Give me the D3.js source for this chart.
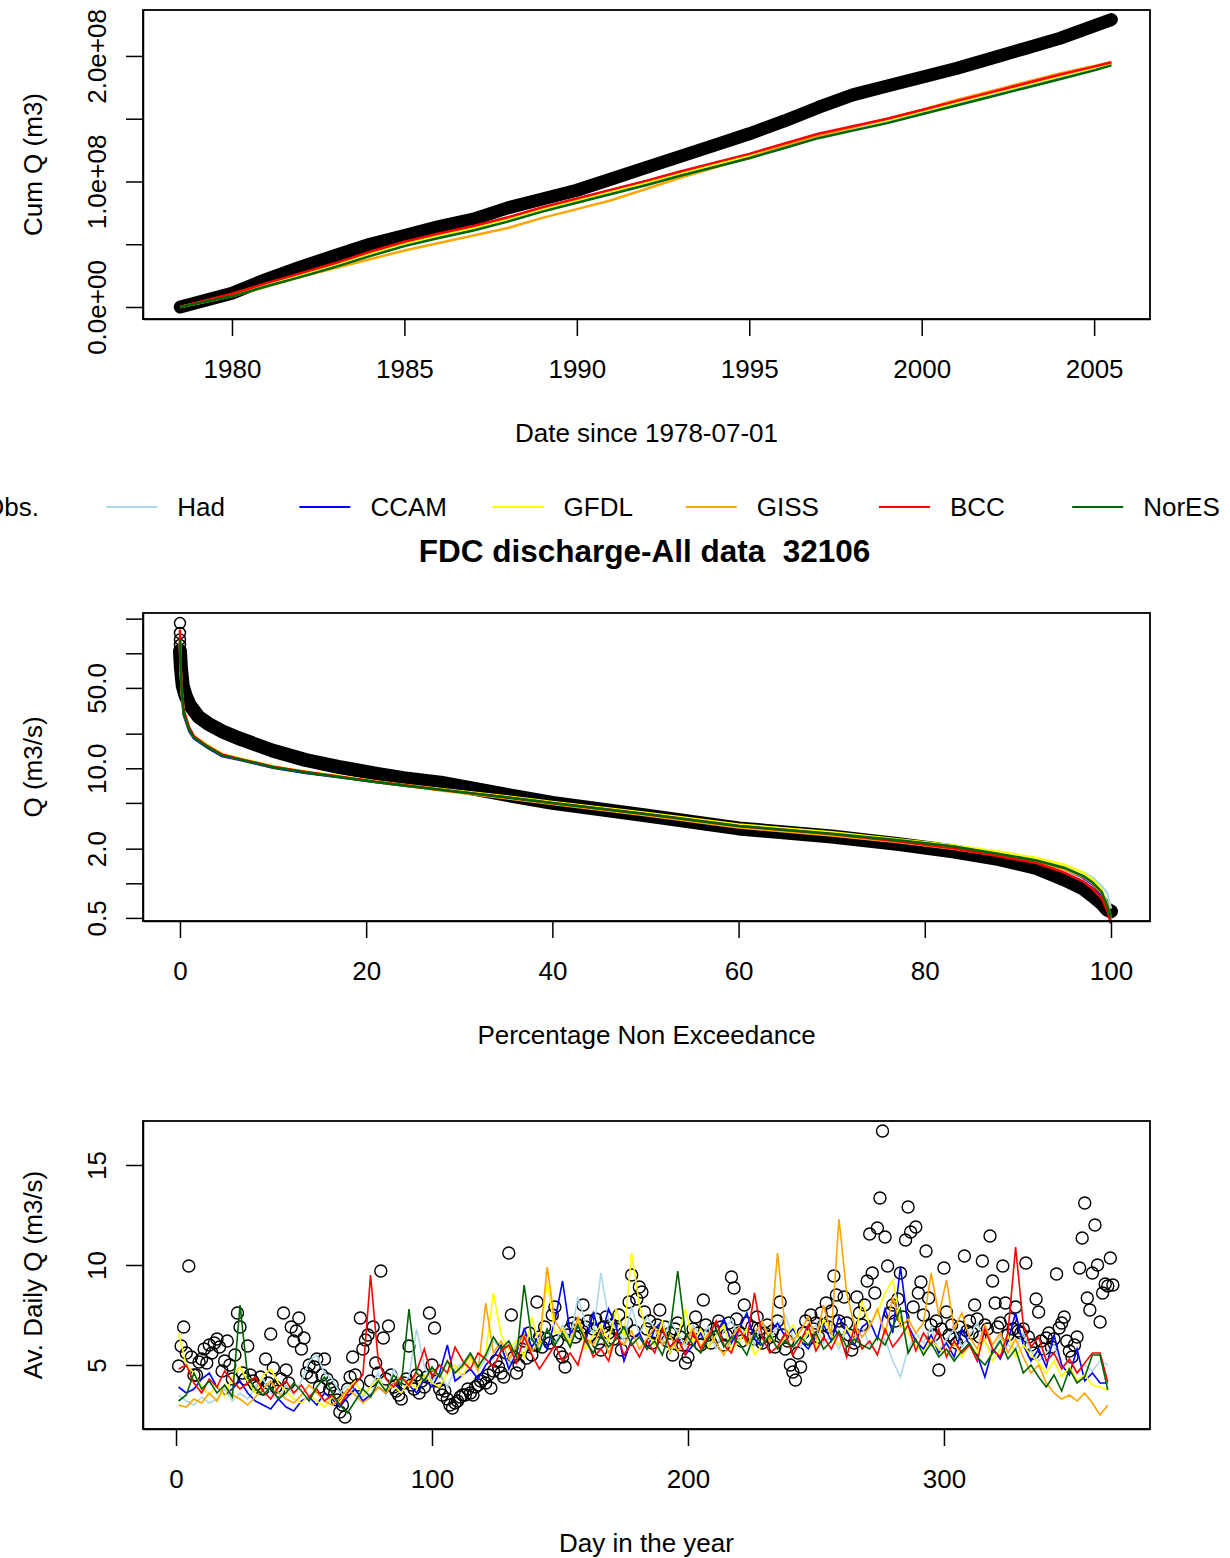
<!DOCTYPE html>
<html>
<head>
<meta charset="utf-8">
<script src="https://cdn.jsdelivr.net/npm/d3@7"></script>
<style>
  body { margin: 0; background: #fff; }
  svg { font-family: "Liberation Sans", Arial, sans-serif; }
  .axis text { font-size: 26px; fill: #000; }
  .axis path, .axis line { stroke: #000; stroke-width: 1.5; }
  .label { font-size: 26px; text-anchor: middle; fill: #000; }
  .box { fill: none; stroke: #000; stroke-width: 1.8; }
</style>
</head>
<body>
<svg id="chart" width="1230" height="1558"></svg>
<script>
// ---------- series names / colours ----------
var models = ["Had", "CCAM", "GFDL", "GISS", "BCC", "NorESM"];
var modelColors = ["#add8e6", "#0000ff", "#ffff00", "#ffa500", "#ff0000", "#006400"];

// ---------- panel 1: cumulative discharge (units of 1e8 m3) ----------
var cumYears = [1978.5, 1980, 1981, 1982, 1983, 1984, 1985, 1986, 1987, 1988, 1989, 1990, 1991, 1992,
  1993, 1994, 1995, 1996, 1997, 1998, 1999, 2000, 2001, 2002, 2003, 2004, 2005, 2005.5];
var cumObs = [0, 0.11, 0.22, 0.32, 0.41, 0.50, 0.57, 0.64, 0.70, 0.79, 0.86, 0.93, 1.02, 1.11,
  1.20, 1.29, 1.38, 1.48, 1.59, 1.69, 1.76, 1.83, 1.90, 1.98, 2.06, 2.14, 2.24, 2.29];
var cumHad = [0, 0.09, 0.17, 0.25, 0.33, 0.42, 0.50, 0.565, 0.625, 0.695, 0.775, 0.845, 0.915, 0.985,
  1.06, 1.13, 1.20, 1.28, 1.36, 1.42, 1.48, 1.55, 1.62, 1.69, 1.76, 1.83, 1.90, 1.935];
var cumCCAM = [0, 0.10, 0.185, 0.265, 0.345, 0.435, 0.515, 0.58, 0.64, 0.71, 0.79, 0.86, 0.93, 1.00,
  1.075, 1.145, 1.215, 1.295, 1.375, 1.435, 1.495, 1.565, 1.635, 1.705, 1.775, 1.845, 1.91, 1.94];
var cumGFDL = [0, 0.095, 0.175, 0.255, 0.335, 0.425, 0.505, 0.57, 0.63, 0.70, 0.78, 0.85, 0.92, 0.99,
  1.065, 1.135, 1.205, 1.285, 1.365, 1.43, 1.49, 1.56, 1.63, 1.70, 1.77, 1.84, 1.905, 1.94];
var cumGISS = [0, 0.085, 0.16, 0.24, 0.31, 0.38, 0.45, 0.51, 0.57, 0.63, 0.71, 0.78, 0.85, 0.94,
  1.03, 1.11, 1.19, 1.28, 1.36, 1.43, 1.50, 1.57, 1.65, 1.72, 1.79, 1.86, 1.92, 1.95];
var cumBCC = [0, 0.105, 0.19, 0.27, 0.35, 0.44, 0.52, 0.585, 0.645, 0.715, 0.795, 0.865, 0.935, 1.005,
  1.08, 1.15, 1.22, 1.30, 1.38, 1.44, 1.50, 1.57, 1.64, 1.71, 1.78, 1.85, 1.915, 1.95];
var cumNorESM = [0, 0.085, 0.165, 0.24, 0.32, 0.405, 0.485, 0.55, 0.61, 0.68, 0.76, 0.83, 0.90, 0.97,
  1.045, 1.115, 1.185, 1.265, 1.345, 1.405, 1.465, 1.535, 1.605, 1.675, 1.745, 1.815, 1.885, 1.925];
var cumTicks = [0, 0.5e8, 1e8, 1.5e8, 2e8];
var cumTickLabels = ["0.0e+00", "", "1.0e+08", "", "2.0e+08"];
var yearTicks = [1980, 1985, 1990, 1995, 2000, 2005];

// ---------- panel 2: flow duration curve ----------
var fdcObsP = [0, 0.1, 0.3, 0.6, 1, 2, 3, 4.5, 6.5, 10, 13.5, 17, 21, 24, 28, 35, 40, 50, 60, 70,
  77, 83, 88, 92, 95, 97, 98, 99, 99.6, 100];
var fdcObsQ = [105, 75, 52, 43, 36, 28, 24.5, 21, 18, 14.2, 11.8, 10.3, 9.0, 8.2, 7.5, 5.9, 5.0, 3.9, 3.0, 2.55,
  2.2, 1.9, 1.62, 1.36, 1.08, 0.9, 0.78, 0.67, 0.59, 0.57];
var fdcObsPeakQ = [183, 150, 132, 118];
var fdcP = [0, 0.05, 0.2, 0.4, 1, 1.5, 3, 4.5, 6.5, 10, 13.5, 17, 21, 24, 28, 35, 40, 50, 60, 70,
  77, 83, 88, 92, 95, 97, 98, 99, 99.6, 100];
var fdcHad = [120, 78, 44, 30, 21.5, 18.5, 15.2, 13.0, 11.9, 10.2, 9.2, 8.4, 7.6, 7.1, 6.5, 5.6, 5.0, 4.0, 3.15, 2.7,
  2.35, 2.08, 1.82, 1.62, 1.42, 1.25, 1.12, 0.95, 0.82, 0.6];
var fdcCCAM = [125, 80, 45, 29, 21, 18.2, 15.0, 12.8, 11.8, 10.1, 9.1, 8.4, 7.6, 7.1, 6.5, 5.6, 5.05, 4.05, 3.2, 2.72,
  2.36, 2.06, 1.78, 1.56, 1.33, 1.12, 0.98, 0.8, 0.6, 0.45];
var fdcGFDL = [130, 82, 46, 31, 22.5, 19.2, 15.8, 13.4, 12.2, 10.4, 9.4, 8.6, 7.7, 7.2, 6.6, 5.7, 5.1, 4.1, 3.25, 2.78,
  2.42, 2.14, 1.88, 1.66, 1.45, 1.24, 1.08, 0.88, 0.66, 0.5];
var fdcGISS = [128, 80, 45, 30, 22, 18.8, 15.4, 13.1, 12.0, 10.3, 9.3, 8.5, 7.6, 7.1, 6.4, 5.5, 4.9, 3.9, 3.05, 2.6,
  2.28, 2.0, 1.74, 1.54, 1.32, 1.14, 1.0, 0.82, 0.62, 0.47];
var fdcBCC = [160, 95, 50, 32, 22.5, 19.0, 15.5, 13.2, 12.0, 10.3, 9.3, 8.5, 7.65, 7.15, 6.5, 5.6, 5.0, 4.0, 3.15, 2.68,
  2.32, 2.02, 1.72, 1.5, 1.24, 1.04, 0.9, 0.74, 0.58, 0.45];
var fdcNorESM = [130, 82, 45, 30, 21.5, 18.5, 15.2, 13.0, 11.9, 10.2, 9.2, 8.4, 7.6, 7.1, 6.5, 5.6, 5.0, 4.0, 3.15, 2.7,
  2.38, 2.1, 1.8, 1.58, 1.36, 1.16, 1.02, 0.84, 0.64, 0.5];
var fdcTicks = [0.5, 1, 2, 5, 10, 20, 50, 100, 200];
var fdcTickLabels = ["0.5", "", "2.0", "", "10.0", "", "50.0", "", ""];
var pctTicks = [0, 20, 40, 60, 80, 100];

// ---------- panel 3: average daily discharge ----------
var dayObs = [
  4.95, 5.95, 6.9, 5.6, 9.95, 5.4, 4.5, 4.5, 5.15, 5.3,
  5.8, 5.1, 6.0, 5.6, 6.1, 6.3, 5.9, 4.7, 5.2, 6.2,
  5.0, 4.3, 5.5, 7.6, 6.9, 4.6, 4.3, 5.95, 4.5, 4.2,
  4.0, 3.9, 4.4, 3.8, 5.3, 4.1, 6.55, 4.85, 3.9, 3.7,
  4.3, 7.6, 4.75, 4.1, 6.9, 6.2, 6.7, 7.35, 5.8, 6.35,
  4.6, 5.0, 4.4, 4.9, 5.3, 3.9, 4.5, 5.3, 4.3, 3.8,
  4.0, 3.6, 3.25, 2.65, 3.0, 2.4, 3.8, 4.4, 5.4, 4.5,
  4.0, 7.35, 5.8, 6.25, 6.5, 4.2, 6.9, 5.1, 4.6, 9.7,
  6.35, 4.3, 6.95, 4.5, 3.9, 3.7, 3.5, 3.3, 4.1, 4.3,
  5.95, 4.0, 3.8, 4.5, 3.6, 4.2, 3.9, 4.4, 7.6, 5.0,
  6.85, 4.2, 3.8, 3.5, 3.7, 3.3, 3.0, 2.85, 3.1, 3.2,
  3.4, 3.5, 3.5, 3.8, 3.6, 3.5, 3.9, 4.0, 4.2, 4.3,
  4.1, 4.5, 3.85, 4.7, 5.2, 4.9, 4.6, 4.4, 5.6, 10.6,
  7.5, 5.4, 4.6, 5.0, 5.8, 6.2, 5.35, 6.6, 5.5, 6.0,
  8.15, 6.4, 5.9, 6.9, 6.3, 6.1, 7.5, 7.9, 6.2, 5.6,
  5.4, 4.9, 6.5, 6.8, 7.1, 6.4, 7.0, 6.6, 8.0, 6.9,
  7.2, 6.5, 6.8, 7.3, 6.1, 5.75, 6.9, 7.4, 6.6, 7.0,
  6.3, 6.8, 7.5, 5.75, 6.6, 7.1, 8.15, 9.5, 6.7, 8.3,
  8.9, 8.65, 7.65, 6.8, 7.2, 6.1, 6.6, 7.0, 7.75, 6.4,
  6.9, 6.2, 6.6, 5.5, 6.8, 7.1, 6.4, 6.0, 5.1, 5.4,
  6.3, 6.8, 7.4, 6.6, 6.0, 8.25, 7.0, 6.5, 6.1, 6.8,
  6.4, 7.2, 6.9, 6.0, 6.5, 7.1, 9.4, 8.85, 7.3, 6.6,
  6.2, 8.0, 7.1, 6.5, 6.9, 6.3, 7.4, 6.8, 6.1, 6.6,
  7.0, 6.4, 6.7, 5.9, 7.2, 8.15, 6.5, 5.8, 6.2, 5.0,
  4.65, 4.25, 5.6, 4.9, 6.6, 7.2, 6.3, 7.5, 6.8, 7.1,
  6.4, 7.6, 7.0, 8.1, 6.9, 7.7, 9.45, 8.5, 7.2, 6.8,
  8.4, 7.1, 6.5, 5.75, 6.1, 8.4, 7.6, 7.0, 8.0, 9.2,
  11.55, 9.6, 8.6, 11.85, 13.35, 16.7, 11.4, 9.95, 7.6, 8.0,
  7.2, 8.3, 9.6, 7.4, 11.25, 12.9, 11.65, 7.9, 11.9, 8.6,
  9.15, 7.5, 10.7, 8.35, 7.0, 6.5, 7.2, 4.75, 6.8, 9.85,
  7.65, 6.5, 7.0, 6.3, 6.1, 6.9, 6.4, 10.45, 6.7, 7.2,
  6.6, 8.0, 7.3, 6.4, 10.2, 7.0, 6.8, 11.45, 9.2, 8.1,
  6.9, 7.1, 9.95, 8.1, 6.5, 7.3, 6.8, 7.9, 6.7, 6.6,
  6.8, 10.1, 6.4, 6.0, 5.6, 8.3, 7.65, 6.2, 5.8, 6.35,
  6.6, 5.9, 6.3, 9.55, 6.85, 7.1, 7.4, 6.2, 5.7, 5.4,
  6.0, 6.4, 9.85, 11.35, 13.1, 8.35, 7.75, 9.6, 12.0, 10.0,
  7.15, 8.6, 9.05, 8.95, 10.35, 9.0];
// model values every third day: 1, 4, 7, ... 364
var dayHad = [
  3.5, 3.2, 3.0, 3.4, 3.1, 3.3, 3.8, 3.2, 3.6, 3.3,
  3.9, 4.3, 3.6, 3.3, 4.0, 3.5, 4.2, 5.2, 5.5, 4.6,
  4.3, 3.6, 4.0, 3.7, 3.4, 3.9, 4.6, 3.5, 4.8, 4.1,
  4.4, 6.8, 4.9, 4.2, 4.6, 3.9, 4.8, 5.1, 5.6, 4.7,
  5.3, 6.2, 5.8, 5.0, 6.1, 5.5, 6.4, 5.9, 6.8, 6.0,
  7.0, 6.2, 8.4, 7.1, 6.6, 9.6, 7.3, 6.8, 6.2, 7.9,
  6.5, 7.4, 6.8, 6.1, 7.2, 6.6, 5.9, 7.0, 6.4, 6.9,
  5.8, 6.7, 7.3, 6.2, 6.8, 6.0, 7.2, 6.3, 6.9, 7.5,
  6.4, 5.9, 6.6, 7.0, 6.1, 6.5, 5.8, 6.8, 6.2, 6.9,
  6.0, 5.6, 6.3, 5.2, 4.4, 5.8, 6.6, 6.1, 6.9, 5.7,
  6.3, 6.8, 5.9, 6.5, 7.1, 6.2, 5.6, 6.4, 6.0, 5.8,
  6.6, 5.7, 5.2, 5.6, 6.0, 4.9, 5.3, 4.6, 5.0, 4.7,
  5.2, 5.0];
var dayCCAM = [
  3.9, 3.6, 3.8, 4.3, 4.6, 3.9, 3.5, 3.8, 4.2, 3.6,
  3.2, 3.0, 2.8, 3.3, 2.9, 2.7, 3.2, 3.4, 3.0, 3.6,
  3.3, 2.9, 3.4, 3.8, 3.2, 3.5, 3.9, 3.6, 4.1, 3.7,
  4.0, 3.6, 4.3, 3.9, 4.6, 6.0, 4.2, 4.5, 4.8, 4.3,
  5.0, 5.4, 6.0, 4.8, 5.6, 6.8, 5.9, 6.5, 5.8, 7.2,
  9.2, 6.6, 7.0, 6.2, 7.6, 6.4, 7.8, 6.9, 5.2, 6.3,
  6.6, 5.8, 6.8, 7.2, 5.6, 6.4, 5.5, 6.0, 6.6, 5.9,
  6.5, 7.3, 6.1, 6.8, 7.6, 6.3, 5.9, 6.6, 7.1, 6.4,
  6.8, 6.2, 5.8, 6.5, 7.0, 6.2, 7.4, 6.7, 6.0, 6.9,
  7.2, 6.3, 7.8, 6.6, 9.9, 7.0, 6.2, 5.8, 6.5, 5.6,
  6.1, 5.4, 6.8, 6.0, 5.5, 4.4, 5.8, 5.3, 6.2, 7.6,
  6.0, 5.2, 5.8, 4.9, 6.5, 5.0, 4.5, 5.8, 4.2, 4.6,
  4.1, 4.1];
var dayGFDL = [
  6.6, 5.0, 4.6, 3.9, 3.5, 4.0, 3.4, 4.4, 4.9, 4.2,
  3.6, 4.5, 4.8, 4.1, 3.7, 3.3, 3.1, 3.5, 3.2, 2.9,
  3.4, 3.1, 3.8, 4.2, 3.5, 3.9, 4.3, 3.7, 4.0, 3.6,
  4.2, 3.8, 4.5, 4.1, 3.9, 4.6, 5.0, 4.4, 5.3, 4.8,
  5.6, 8.6, 6.5, 5.8, 6.2, 5.4, 7.4, 6.0, 9.25, 6.6,
  6.8, 6.1, 7.3, 5.8, 6.5, 7.0, 6.2, 7.8, 6.4, 10.6,
  8.0, 6.6, 6.0, 7.2, 5.6, 6.4, 7.8, 6.1, 6.8, 5.9,
  6.5, 7.0, 5.7, 6.2, 6.8, 5.5, 6.0, 6.6, 5.8, 6.4,
  7.0, 6.1, 6.7, 5.9, 7.3, 6.5, 6.0, 6.9, 6.2, 8.2,
  7.0, 7.6, 8.6, 9.25, 7.2, 6.6, 6.0, 5.6, 6.3, 5.8,
  5.5, 6.1, 5.4, 6.0, 5.6, 6.3, 5.2, 5.8, 6.5, 5.4,
  6.0, 5.5, 5.1, 4.6, 5.2, 4.4, 4.9, 4.2, 4.5, 4.0,
  3.9, 3.75];
var dayGISS = [
  3.0, 2.9, 3.3, 3.1, 3.6, 3.2, 4.0, 3.5, 3.3, 3.0,
  3.4, 3.8, 4.2, 3.6, 3.3, 3.1, 3.5, 4.0, 3.6, 3.2,
  3.0, 3.3, 3.8, 3.5, 3.1, 3.4, 3.9, 3.6, 4.1, 4.4,
  3.9, 4.6, 4.2, 4.8, 4.4, 5.2, 4.6, 4.9, 5.5, 4.7,
  8.1, 5.6, 6.2, 5.3, 5.9, 6.5, 5.7, 6.1, 9.9, 7.2,
  6.6, 5.9, 7.4, 6.3, 6.0, 6.8, 5.6, 6.4, 6.0, 6.7,
  5.8, 6.3, 6.9, 6.0, 6.5, 5.7, 6.2, 6.8, 5.9, 6.6,
  6.1, 5.5, 6.4, 6.9, 6.0, 6.6, 7.2, 6.1, 10.6, 6.8,
  6.2, 6.7, 7.4, 6.3, 8.0, 6.5, 12.3, 8.6, 7.0, 6.4,
  6.9, 7.8, 6.5, 8.4, 6.9, 7.3, 6.6, 7.1, 9.6, 7.5,
  9.25, 6.8, 7.6, 6.4, 5.8, 7.0, 6.0, 6.6, 5.6, 6.3,
  5.4, 4.6, 5.0, 4.1, 3.6, 3.3, 3.5, 3.2, 3.6, 3.1,
  2.5, 3.0];
var dayBCC = [
  4.8, 5.0, 4.1, 3.6, 4.3, 3.9, 4.7, 4.2, 3.8, 4.1,
  4.4, 3.7, 3.3, 3.9, 4.2, 3.6, 4.0, 3.4, 3.8, 3.2,
  3.5, 3.0, 3.6, 4.1, 4.5, 9.5, 5.2, 4.3, 3.9, 4.4,
  4.0, 4.7, 5.8, 4.4, 5.0, 4.6, 5.9, 5.2, 4.8, 5.6,
  5.3, 4.9, 5.7, 6.0, 5.1, 6.4, 5.5, 4.8, 5.4, 6.0,
  5.2, 5.6, 5.0, 6.4, 5.4, 5.8, 5.2, 6.6, 5.5, 6.1,
  5.4, 6.2, 5.6, 6.8, 5.9, 6.3, 5.5, 6.6, 5.8, 6.4,
  7.2, 6.0, 5.6, 6.8, 6.2, 8.6, 6.4, 5.6, 5.9, 6.6,
  5.5, 6.2, 7.0, 5.7, 6.4, 5.8, 6.6, 5.4, 6.9, 5.8,
  6.2, 5.5, 6.8, 5.9, 6.4, 7.0, 5.7, 6.6, 6.0, 6.8,
  5.4, 6.2, 5.6, 6.0, 5.2, 6.8, 5.8, 5.4, 6.6, 10.9,
  7.0, 5.9, 6.4, 5.2, 5.6, 4.8, 5.3, 4.6, 5.1, 5.6,
  5.6, 4.15];
var dayNorESM = [
  3.2, 3.5, 4.6, 3.8, 4.2, 3.6, 4.0, 3.4, 8.0, 4.4,
  3.8, 3.5, 3.9, 3.3, 3.6, 4.1, 3.7, 3.2, 3.9, 4.4,
  3.6, 3.0, 2.6, 3.2, 3.8, 3.4, 4.2, 3.7, 4.5, 4.0,
  7.8, 4.6, 4.2, 4.9, 4.4, 5.2, 4.6, 5.0, 5.6, 4.9,
  5.5, 6.4, 5.8, 6.2, 5.4, 9.0, 6.3, 5.7, 6.8, 6.0,
  6.6, 5.9, 7.0, 6.2, 5.6, 6.5, 5.9, 6.3, 6.9, 6.0,
  6.4, 5.8, 6.2, 5.5, 6.7, 9.7, 6.6, 6.0, 5.6, 6.3,
  6.8, 5.9, 6.4, 6.1, 5.5, 6.6, 6.0, 6.5, 5.8, 6.2,
  5.9, 6.4, 6.0, 6.6, 5.8, 6.2, 6.7, 5.9, 6.3, 6.0,
  5.8, 6.4, 6.0, 6.9, 7.8, 5.6, 6.3, 5.5, 6.1, 5.4,
  5.8, 5.2, 5.7, 6.1, 5.4, 5.0, 5.6, 6.2, 5.3, 5.8,
  4.6, 5.0, 4.4, 3.9, 4.5, 3.7, 4.8, 4.1, 4.4, 5.5,
  5.5, 3.75];
var dayTicks = [0, 100, 200, 300];
var dailyTicks = [5, 10, 15];

// ---------- layout ----------
var svg = d3.select("#chart");
var L = 143, R = 1150;

function drawBox(top, bottom) {
    svg.append("rect").attr("class", "box")
        .attr("x", L).attr("y", top).attr("width", R - L).attr("height", bottom - top);
}

function xAxis(scale, ticks, bottom) {
    svg.append("g").attr("class", "axis")
        .attr("transform", "translate(0," + bottom + ")")
        .call(d3.axisBottom(scale).tickValues(ticks).tickFormat(d3.format("d"))
            .tickSize(17).tickSizeOuter(0).tickPadding(24));
}

function yAxis(scale, ticks, labels) {
    var g = svg.append("g").attr("class", "axis")
        .attr("transform", "translate(" + L + ",0)")
        .call(d3.axisLeft(scale).tickValues(ticks).tickSize(17).tickSizeOuter(0)
            .tickFormat(function(d, i) { return labels ? labels[i] : d; }));
    g.selectAll("text")
        .attr("transform", "rotate(-90)")
        .attr("x", 0).attr("y", -37).attr("dy", null)
        .style("text-anchor", "middle");
}

function labels(xTitle, xTitleY, yTitle, midY) {
    svg.append("text").attr("class", "label")
        .attr("x", (L + R) / 2).attr("y", xTitleY).text(xTitle);
    svg.append("text").attr("class", "label")
        .attr("transform", "translate(42," + midY + ") rotate(-90)")
        .text(yTitle);
}

// ---------- panel 1 ----------
(function() {
    var top = 10, bottom = 319;
    var x = d3.scaleLinear().domain([1977.42, 2006.62]).range([L, R]);
    var y = d3.scaleLinear().domain([-0.0956e8, 2.366e8]).range([bottom, top]);
    var line = d3.line()
        .x(function(d) { return x(d[0]); })
        .y(function(d) { return y(d[1] * 1e8); });

    svg.append("path")
        .attr("d", line(d3.zip(cumYears, cumObs)))
        .attr("fill", "none").attr("stroke", "#000")
        .attr("stroke-width", 13).attr("stroke-linecap", "round").attr("stroke-linejoin", "round");

    var series = [cumHad, cumCCAM, cumGFDL, cumGISS, cumBCC, cumNorESM];
    series.forEach(function(s, i) {
        svg.append("path")
            .attr("d", line(d3.zip(cumYears, s)))
            .attr("fill", "none").attr("stroke", modelColors[i]).attr("stroke-width", 2.5);
    });

    drawBox(top, bottom);
    xAxis(x, yearTicks, bottom);
    yAxis(y, cumTicks, cumTickLabels);
    labels("Date since 1978-07-01", 442, "Cum Q (m3)", (top + bottom) / 2);
})();

// ---------- legend + title ----------
(function() {
    svg.append("clipPath").attr("id", "legclip")
        .append("rect").attr("x", 0).attr("y", 480).attr("width", 1219).attr("height", 50);
    var names = ["Obs."].concat(models);
    var colors = ["#000"].concat(modelColors);
    var leg = svg.append("g").attr("clip-path", "url(#legclip)");
    var item = leg.selectAll("g").data(names).enter().append("g")
        .attr("transform", function(d, i) { return "translate(" + (-87 + i * 193.2) + ",507)"; });
    item.append("line")
        .attr("x1", 0).attr("x2", 51).attr("y1", 0).attr("y2", 0)
        .attr("stroke", function(d, i) { return i === 0 ? "none" : colors[i]; })
        .attr("stroke-width", 2);
    item.append("text")
        .attr("x", 71).attr("y", 9)
        .style("font-size", "26px")
        .text(function(d) { return d; });

    svg.append("text")
        .attr("x", (L + R) / 2 - 2).attr("y", 562)
        .style("text-anchor", "middle").style("font-size", "31.5px").style("font-weight", "bold")
        .style("white-space", "pre")
        .text("FDC discharge-All data  32106");
})();

// ---------- panel 2 ----------
(function() {
    var top = 613, bottom = 921;
    var x = d3.scaleLinear().domain([-3.97, 104.19]).range([L, R]);
    var y = d3.scaleLog().domain([0.47, 224]).range([bottom, top]);
    var line = d3.line()
        .x(function(d) { return x(d[0]); })
        .y(function(d) { return y(d[1]); });

    svg.append("path")
        .attr("d", line(d3.zip(fdcObsP, fdcObsQ)))
        .attr("fill", "none").attr("stroke", "#000")
        .attr("stroke-width", 14).attr("stroke-linecap", "round").attr("stroke-linejoin", "round");
    svg.selectAll(".peak").data(fdcObsPeakQ).enter().append("circle")
        .attr("cx", x(0)).attr("cy", function(d) { return y(d); })
        .attr("r", 5.5).attr("fill", "none").attr("stroke", "#000").attr("stroke-width", 1.5);

    var series = [fdcHad, fdcCCAM, fdcGFDL, fdcGISS, fdcBCC, fdcNorESM];
    series.forEach(function(s, i) {
        svg.append("path")
            .attr("d", line(d3.zip(fdcP, s)))
            .attr("fill", "none").attr("stroke", modelColors[i]).attr("stroke-width", 2.5);
    });

    drawBox(top, bottom);
    xAxis(x, pctTicks, bottom);
    yAxis(y, fdcTicks, fdcTickLabels);
    labels("Percentage Non Exceedance", 1044, "Q (m3/s)", (top + bottom) / 2);
})();

// ---------- panel 3 ----------
(function() {
    var top = 1121, bottom = 1429;
    var x = d3.scaleLinear().domain([-12.9, 380.5]).range([L, R]);
    var y = d3.scaleLinear().domain([1.8, 17.2]).range([bottom, top]);
    var obsDays = d3.range(1, dayObs.length + 1);
    var modelDays = d3.range(1, 367, 3);

    svg.selectAll(".obs").data(dayObs).enter().append("circle")
        .attr("cx", function(d, i) { return x(obsDays[i]); })
        .attr("cy", function(d) { return y(d); })
        .attr("r", 6).attr("fill", "none").attr("stroke", "#000").attr("stroke-width", 1.4);

    var line = d3.line()
        .x(function(d) { return x(d[0]); })
        .y(function(d) { return y(d[1]); });
    var series = [dayHad, dayCCAM, dayGFDL, dayGISS, dayBCC, dayNorESM];
    series.forEach(function(s, i) {
        svg.append("path")
            .attr("d", line(d3.zip(modelDays, s)))
            .attr("fill", "none").attr("stroke", modelColors[i]).attr("stroke-width", 1.6);
    });

    drawBox(top, bottom);
    xAxis(x, dayTicks, bottom);
    yAxis(y, dailyTicks, null);
    labels("Day in the year", 1552, "Av. Daily Q (m3/s)", (top + bottom) / 2);
})();
</script>
</body>
</html>
